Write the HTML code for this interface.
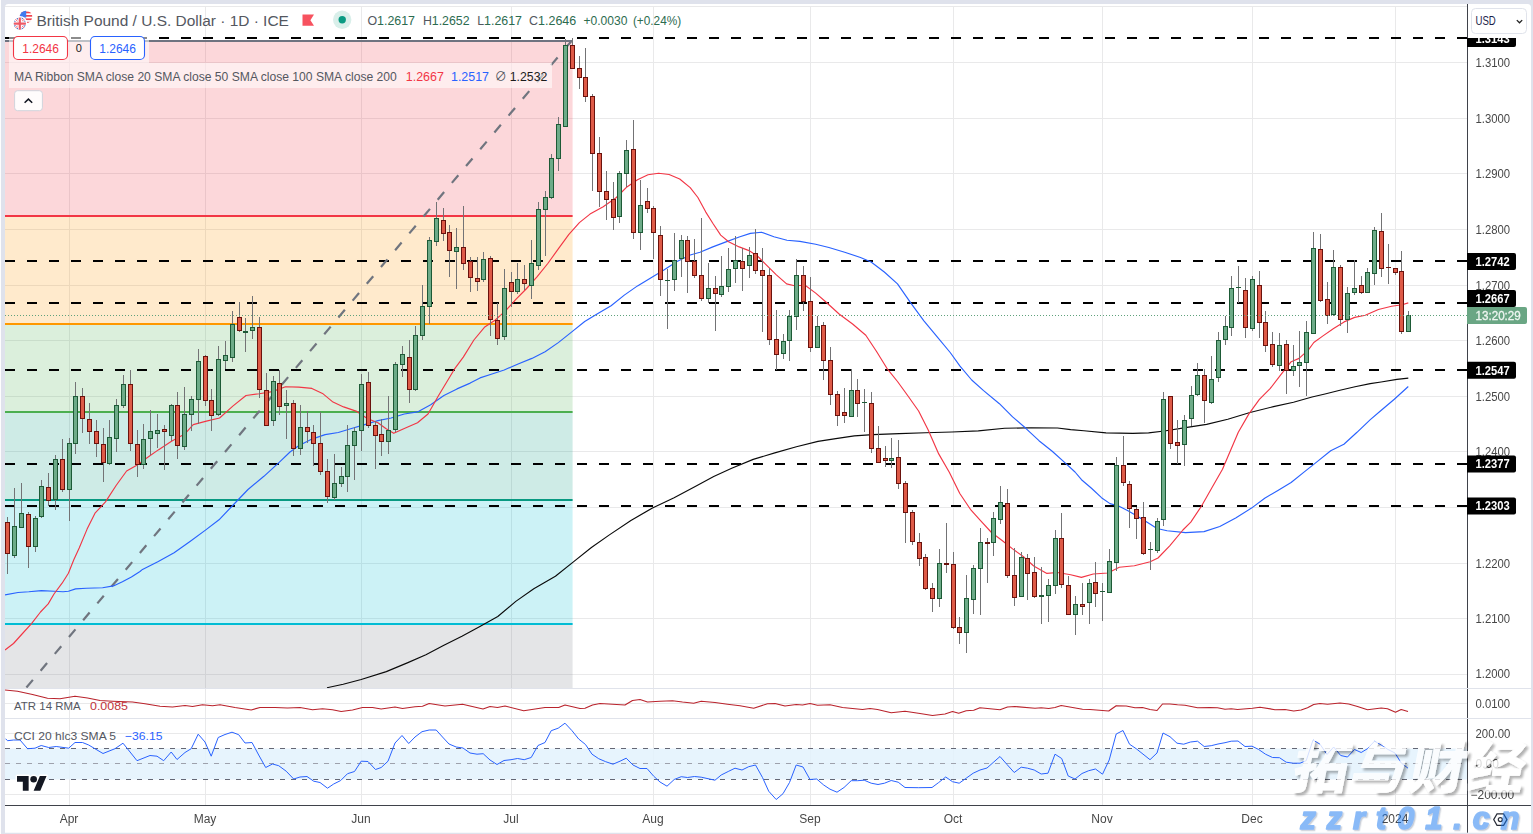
<!DOCTYPE html>
<html><head><meta charset="utf-8"><title>GBPUSD</title>
<style>html,body{margin:0;padding:0;background:#dfe2ec;}body{width:1533px;height:834px;overflow:hidden}</style></head>
<body>
<svg width="1533" height="834" viewBox="0 0 1533 834" style="display:block" font-family="'Liberation Sans', 'Noto Sans CJK SC', sans-serif">
<defs>
<clipPath id="cm"><rect x="5" y="4" width="1462" height="684.5"/></clipPath>
<clipPath id="ca"><rect x="5" y="688.5" width="1462" height="30.0"/></clipPath>
<clipPath id="cc"><rect x="5" y="718.5" width="1462" height="86.5"/></clipPath>
<clipPath id="cax"><rect x="1467" y="38" width="70" height="767"/></clipPath>
<clipPath id="uk"><circle cx="19.8" cy="23.6" r="6.2"/></clipPath>
<clipPath id="us"><circle cx="26" cy="17" r="6.2"/></clipPath>
<filter id="ws" x="-10%" y="-10%" width="130%" height="130%"><feDropShadow dx="2.5" dy="2.5" stdDeviation="0.9" flood-color="#000" flood-opacity="0.38"/></filter>
<filter id="us2" x="-5%" y="-20%" width="110%" height="150%"><feDropShadow dx="1.3" dy="1.3" stdDeviation="0.45" flood-color="#2b3f66" flood-opacity="0.5"/></filter>
<filter id="gs" x="0" y="0" width="100%" height="100%" filterUnits="userSpaceOnUse" color-interpolation-filters="sRGB"><feOffset dx="0" dy="0"/></filter>
</defs>
<rect width="1533" height="834" fill="#dfe2ec"/>
<rect x="0" y="0" width="0.95" height="834" fill="#fff"/>
<path d="M5 832.7V7.5a3.5 3.5 0 0 1 3.5 -3.5H1527.5a3.5 3.5 0 0 1 3.5 3.5V832.7Z" fill="#fff"/>
<path d="M69.5 6V805 M205.5 6V805 M361.5 6V805 M511.5 6V805 M653.5 6V805 M810.5 6V805 M953.5 6V805 M1102.5 6V805 M1252.5 6V805 M1395.5 6V805 M5 674.5H1467 M5 618.5H1467 M5 563.5H1467 M5 507.5H1467 M5 451.5H1467 M5 396.5H1467 M5 340.5H1467 M5 285.5H1467 M5 229.5H1467 M5 173.5H1467 M5 118.5H1467 M5 62.5H1467 M5 6.5H1467 M5 703.5H1467 M5 733.5H1467 M5 763.5H1467 M5 794.5H1467" stroke="#e9e9ea" stroke-width="1" fill="none"/>
<g clip-path="url(#cm)">
<rect x="5" y="41" width="567.6" height="175" fill="#f23645" fill-opacity="0.2"/>
<rect x="5" y="216" width="567.6" height="108" fill="#ff9800" fill-opacity="0.2"/>
<rect x="5" y="324" width="567.6" height="88" fill="#4caf50" fill-opacity="0.2"/>
<rect x="5" y="412" width="567.6" height="88" fill="#089981" fill-opacity="0.2"/>
<rect x="5" y="500" width="567.6" height="124" fill="#00bcd4" fill-opacity="0.2"/>
<rect x="5" y="624" width="567.6" height="166" fill="#787b86" fill-opacity="0.2"/>
<path d="M5 41H572.6" stroke="#6f7380" stroke-width="2" fill="none"/>
<path d="M5 216H572.6" stroke="#f23645" stroke-width="2" fill="none"/>
<path d="M5 324H572.6" stroke="#ff9800" stroke-width="2" fill="none"/>
<path d="M5 412H572.6" stroke="#4caf50" stroke-width="2" fill="none"/>
<path d="M5 500H572.6" stroke="#089981" stroke-width="2" fill="none"/>
<path d="M5 624H572.6" stroke="#00bcd4" stroke-width="2" fill="none"/>
<path d="M5 38H1467" stroke="#000" stroke-width="2" stroke-dasharray="10 12" fill="none"/>
<path d="M5 261H1467" stroke="#000" stroke-width="2" stroke-dasharray="10 12" fill="none"/>
<path d="M5 303H1467" stroke="#000" stroke-width="2" stroke-dasharray="10 12" fill="none"/>
<path d="M5 370H1467" stroke="#000" stroke-width="2" stroke-dasharray="10 12" fill="none"/>
<path d="M5 464H1467" stroke="#000" stroke-width="2" stroke-dasharray="10 12" fill="none"/>
<path d="M5 506H1467" stroke="#000" stroke-width="2" stroke-dasharray="10 12" fill="none"/>
<path d="M571.5 41L-34.7 760" stroke="#70757f" stroke-width="2.2" stroke-dasharray="10 12" stroke-dashoffset="0.4" fill="none"/>
<path d="M327.0 687.8 L343.2 684.2 L361.2 679.5 L386.3 671.6 L407.9 662.6 L425.9 654.7 L443.9 645.3 L461.9 636.3 L479.9 626.6 L497.8 616.5 L515.8 601.4 L533.8 588.8 L555.4 576.3 L573.4 561.9 L591.4 547.5 L609.4 534.9 L630.9 520.5 L652.5 507.9 L674.1 497.8 L695.7 486.3 L713.7 476.6 L731.7 468.3 L753.2 459.4 L774.8 452.9 L796.4 446.8 L818.0 441.4 L835.8 438.6 L854.3 435.9 L872.8 434.6 L899.2 433.6 L925.5 432.8 L951.9 432.0 L978.3 430.9 L1004.7 428.3 L1031.1 427.8 L1057.5 428.0 L1070.7 429.6 L1083.9 430.8 L1106.0 432.9 L1132.8 433.4 L1148.6 432.9 L1164.4 431.0 L1185.5 427.6 L1206.6 424.4 L1227.8 419.2 L1250.0 412.5 L1273.5 406.6 L1293.5 402.2 L1312.0 397.0 L1325.0 394.0 L1338.9 390.5 L1355.0 386.8 L1370.2 383.6 L1381.1 382.0 L1396.9 379.4 L1408.3 378.1" stroke="#0a0a0a" stroke-width="1.15" fill="none" stroke-linejoin="round" />
<path d="M5.0 594.9 L18.0 592.5 L28.8 591.8 L41.4 590.6 L54.0 591.3 L63.0 591.8 L68.4 591.3 L75.6 588.9 L86.4 588.2 L102.6 587.7 L113.4 585.9 L122.4 581.7 L131.4 576.9 L140.0 571.5 L142.5 569.4 L158.3 561.5 L174.1 552.8 L190.0 541.5 L205.8 529.9 L219.0 519.8 L232.2 506.0 L248.0 489.5 L263.9 476.3 L279.7 461.8 L290.0 452.0 L298.7 445.7 L311.9 439.1 L325.1 434.6 L338.3 432.5 L351.5 428.5 L364.7 424.6 L377.9 420.6 L391.1 418.0 L404.3 414.0 L417.5 411.9 L430.7 404.8 L443.9 395.5 L457.0 388.9 L470.2 383.1 L480.0 377.9 L492.0 374.0 L504.2 370.0 L518.7 363.7 L531.9 358.4 L545.1 351.8 L558.3 342.6 L571.5 332.1 L584.7 321.5 L597.9 313.6 L611.1 305.7 L624.3 295.1 L637.5 285.9 L650.7 278.0 L663.9 270.1 L677.0 261.5 L690.2 255.0 L700.0 252.3 L712.8 246.9 L726.0 241.9 L739.2 237.0 L750.4 233.4 L761.4 232.2 L773.9 236.7 L787.0 240.3 L799.9 241.4 L815.7 244.3 L828.9 247.5 L844.7 252.2 L860.5 257.5 L871.1 262.0 L884.3 272.0 L897.5 283.9 L910.7 302.9 L923.9 320.8 L937.0 336.6 L950.2 352.5 L960.0 366.2 L971.7 380.0 L983.6 390.6 L999.4 403.7 L1012.6 416.9 L1025.8 428.3 L1039.0 440.7 L1052.2 451.2 L1065.4 463.1 L1075.0 472.0 L1081.5 479.7 L1091.2 488.0 L1101.5 497.7 L1110.0 503.6 L1118.6 506.0 L1127.5 510.5 L1137.0 516.0 L1147.6 522.5 L1157.0 528.5 L1167.1 530.8 L1185.5 532.6 L1204.0 531.6 L1219.8 526.5 L1235.7 518.1 L1251.5 508.1 L1264.7 498.3 L1277.9 490.4 L1291.1 482.5 L1304.3 471.9 L1317.5 461.4 L1330.7 450.8 L1343.9 444.2 L1357.0 432.3 L1370.3 419.6 L1381.0 410.5 L1394.3 399.2 L1408.3 386.5" stroke="#2962ff" stroke-width="1.15" fill="none" stroke-linejoin="round" />
<path d="M5.0 650.1 L13.5 643.5 L21.6 634.5 L31.5 623.7 L40.5 612.0 L48.2 603.9 L54.0 594.0 L62.1 583.2 L68.4 573.3 L73.8 559.8 L79.2 548.0 L87.1 529.1 L95.0 513.2 L105.5 501.9 L116.1 485.5 L126.6 471.0 L137.2 465.0 L147.8 457.3 L158.3 449.9 L171.5 441.2 L184.7 434.1 L193.2 424.6 L206.4 421.1 L219.6 418.0 L232.8 406.1 L246.0 395.5 L259.2 393.7 L272.3 391.6 L285.5 386.8 L298.7 387.1 L311.9 388.4 L322.5 393.4 L333.0 402.1 L343.6 406.9 L356.8 411.4 L367.3 418.5 L377.9 422.7 L385.8 428.5 L393.7 433.3 L404.3 428.5 L417.5 422.7 L428.0 414.0 L438.6 395.5 L454.4 369.2 L463.3 357.1 L473.9 340.0 L484.4 327.3 L495.0 320.2 L505.5 310.9 L516.1 299.1 L526.6 288.5 L537.2 276.6 L547.8 263.5 L558.3 248.9 L568.9 234.4 L579.4 222.6 L590.0 214.1 L603.2 206.7 L616.4 197.5 L626.9 186.9 L637.5 179.7 L648.0 174.8 L658.6 173.2 L669.1 174.5 L679.7 179.0 L690.2 187.6 L697.9 197.5 L705.8 212.1 L712.8 223.2 L720.7 235.1 L728.6 241.7 L739.2 246.9 L749.7 250.9 L757.6 256.2 L765.5 264.1 L776.1 274.6 L786.6 283.9 L794.6 285.7 L805.1 285.2 L815.7 293.1 L826.2 302.3 L839.4 314.2 L852.6 324.0 L865.8 335.3 L876.4 351.2 L886.9 368.3 L897.5 381.5 L908.0 396.0 L918.6 411.0 L928.2 430.1 L938.7 453.9 L949.3 472.3 L959.8 493.5 L970.4 509.3 L981.0 521.2 L991.5 532.5 L1002.1 540.5 L1012.6 548.9 L1023.2 556.5 L1033.7 566.0 L1046.9 573.4 L1057.5 572.5 L1070.7 574.7 L1081.4 577.4 L1093.3 574.0 L1107.8 573.0 L1119.3 567.2 L1134.4 565.8 L1150.2 561.8 L1158.0 558.0 L1169.7 545.8 L1182.9 530.0 L1190.8 522.1 L1201.4 506.2 L1211.9 487.8 L1222.5 469.3 L1230.4 450.8 L1238.3 432.3 L1248.9 413.9 L1259.4 399.4 L1270.1 388.7 L1280.7 374.9 L1291.2 361.7 L1299.1 358.4 L1308.4 349.8 L1313.8 342.5 L1323.0 335.9 L1333.6 328.5 L1344.1 321.9 L1354.7 317.4 L1365.3 315.3 L1378.4 309.5 L1391.6 306.3 L1402.2 304.7 L1408.3 302.9" stroke="#f23645" stroke-width="1.15" fill="none" stroke-linejoin="round" />
<path d="M14.5 488V558 M21.5 483V528 M35.5 516V552 M41.5 480V518 M55.5 455V510 M69.5 438V521 M75.5 382V454 M109.5 420V465 M116.5 399V452 M123.5 375V408 M143.5 424V469 M150.5 410V455 M157.5 414V448 M171.5 404V441 M184.5 387V450 M191.5 396V431 M198.5 349V424 M218.5 346V416 M225.5 341V369 M232.5 311V362 M245.5 318V352 M252.5 296V339 M273.5 376V426 M286.5 390V439 M300.5 405V455 M334.5 454V500 M341.5 467V487 M347.5 425V492 M354.5 427V480 M361.5 374V451 M388.5 396V454 M395.5 362V432 M402.5 346V377 M415.5 326V391 M422.5 285V340 M429.5 237V324 M436.5 202V246 M456.5 228V289 M483.5 252V282 M504.5 269V340 M517.5 263V294 M531.5 240V299 M538.5 202V270 M545.5 191V256 M551.5 154V199 M558.5 117V171 M565.5 39V127 M619.5 171V223 M626.5 140V187 M640.5 180V250 M667.5 269V329 M674.5 233V291 M681.5 235V277 M708.5 263V303 M721.5 256V297 M728.5 248V292 M735.5 236V283 M749.5 247V278 M783.5 334V359 M789.5 310V361 M796.5 259V330 M817.5 316V348 M851.5 369V417 M864.5 389V432 M891.5 438V468 M939.5 549V607 M966.5 575V653 M973.5 565V614 M980.5 528V615 M993.5 512V556 M1000.5 486V524 M1021.5 552V597 M1041.5 567V624 M1048.5 579V622 M1055.5 530V594 M1075.5 596V635 M1089.5 579V624 M1102.5 583V621 M1109.5 549V593 M1116.5 457V571 M1150.5 542V570 M1157.5 518V553 M1163.5 392V526 M1184.5 415V466 M1191.5 386V426 M1197.5 363V396 M1211.5 356V404 M1218.5 332V382 M1225.5 316V345 M1231.5 276V336 M1238.5 266V303 M1252.5 276V331 M1279.5 333V371 M1293.5 345V376 M1299.5 331V387 M1306.5 321V396 M1313.5 232V334 M1333.5 250V316 M1347.5 287V333 M1354.5 260V295 M1367.5 268V293 M1374.5 227V285 M1408.5 311V332 M7.5 517V574 M28.5 512V568 M48.5 473V506 M62.5 439V492 M82.5 388V433 M89.5 403V444 M96.5 420V457 M103.5 428V482 M130.5 370V451 M137.5 430V477 M164.5 425V470 M177.5 392V459 M205.5 355V406 M211.5 389V431 M239.5 302V332 M259.5 317V398 M266.5 373V426 M279.5 370V415 M293.5 400V456 M307.5 411V443 M313.5 425V466 M320.5 412V475 M327.5 459V503 M368.5 372V428 M375.5 421V469 M381.5 419V456 M409.5 340V403 M443.5 208V241 M449.5 225V277 M463.5 206V270 M470.5 257V292 M477.5 257V291 M490.5 256V336 M497.5 303V345 M511.5 272V307 M524.5 265V290 M572.5 38V69 M579.5 56V89 M585.5 48V102 M592.5 94V191 M599.5 137V207 M606.5 171V220 M613.5 182V230 M633.5 120V239 M647.5 188V213 M653.5 206V259 M660.5 226V296 M687.5 236V293 M694.5 239V278 M701.5 218V301 M715.5 276V331 M742.5 248V291 M755.5 229V274 M762.5 248V332 M769.5 268V345 M776.5 310V370 M803.5 266V311 M810.5 277V352 M823.5 322V380 M830.5 347V405 M837.5 391V426 M844.5 388V423 M857.5 379V417 M871.5 392V453 M878.5 426V463 M885.5 446V467 M898.5 440V489 M905.5 481V543 M912.5 510V545 M919.5 533V566 M925.5 554V590 M932.5 583V612 M946.5 523V573 M953.5 552V629 M959.5 617V644 M987.5 538V583 M1007.5 489V578 M1014.5 548V606 M1027.5 554V600 M1034.5 557V598 M1061.5 513V588 M1068.5 576V615 M1082.5 583V615 M1095.5 562V607 M1123.5 436V486 M1129.5 481V528 M1136.5 507V539 M1143.5 502V555 M1170.5 396V449 M1177.5 420V464 M1204.5 369V423 M1245.5 278V338 M1259.5 271V338 M1265.5 311V352 M1272.5 332V367 M1286.5 340V394 M1320.5 234V302 M1327.5 282V324 M1340.5 265V326 M1361.5 276V294 M1381.5 213V277 M1388.5 244V284 M1395.5 268V275 M1401.5 251V334" stroke="#737375" stroke-width="1" fill="none"/>
<rect x="12.5" y="526.5" width="4" height="29" fill="#6dab88" stroke="#1d5a36" stroke-width="1"/>
<rect x="19.5" y="513.5" width="4" height="14" fill="#6dab88" stroke="#1d5a36" stroke-width="1"/>
<rect x="33.5" y="518.5" width="4" height="28" fill="#6dab88" stroke="#1d5a36" stroke-width="1"/>
<rect x="39.5" y="486.5" width="4" height="30" fill="#6dab88" stroke="#1d5a36" stroke-width="1"/>
<rect x="53.5" y="459.5" width="4" height="40" fill="#6dab88" stroke="#1d5a36" stroke-width="1"/>
<rect x="67.5" y="443.5" width="4" height="46" fill="#6dab88" stroke="#1d5a36" stroke-width="1"/>
<rect x="73.5" y="396.5" width="4" height="47" fill="#6dab88" stroke="#1d5a36" stroke-width="1"/>
<rect x="107.5" y="437.5" width="4" height="26" fill="#6dab88" stroke="#1d5a36" stroke-width="1"/>
<rect x="114.5" y="405.5" width="4" height="33" fill="#6dab88" stroke="#1d5a36" stroke-width="1"/>
<rect x="121.5" y="384.5" width="4" height="21" fill="#6dab88" stroke="#1d5a36" stroke-width="1"/>
<rect x="141.5" y="439.5" width="4" height="25" fill="#6dab88" stroke="#1d5a36" stroke-width="1"/>
<rect x="148.5" y="431.5" width="4" height="7" fill="#6dab88" stroke="#1d5a36" stroke-width="1"/>
<rect x="155.5" y="430.5" width="4" height="3" fill="#6dab88" stroke="#1d5a36" stroke-width="1"/>
<rect x="169.5" y="405.5" width="4" height="30" fill="#6dab88" stroke="#1d5a36" stroke-width="1"/>
<rect x="182.5" y="414.5" width="4" height="32" fill="#6dab88" stroke="#1d5a36" stroke-width="1"/>
<rect x="189.5" y="399.5" width="4" height="15" fill="#6dab88" stroke="#1d5a36" stroke-width="1"/>
<rect x="196.5" y="361.5" width="4" height="38" fill="#6dab88" stroke="#1d5a36" stroke-width="1"/>
<rect x="216.5" y="359.5" width="4" height="55" fill="#6dab88" stroke="#1d5a36" stroke-width="1"/>
<rect x="223.5" y="355.5" width="4" height="5" fill="#6dab88" stroke="#1d5a36" stroke-width="1"/>
<rect x="230.5" y="324.5" width="4" height="33" fill="#6dab88" stroke="#1d5a36" stroke-width="1"/>
<rect x="243.0" y="331" width="5" height="2" fill="#1d5a36"/>
<rect x="250.5" y="327.5" width="4" height="3" fill="#6dab88" stroke="#1d5a36" stroke-width="1"/>
<rect x="271.5" y="381.5" width="4" height="39" fill="#6dab88" stroke="#1d5a36" stroke-width="1"/>
<rect x="284.5" y="403.5" width="4" height="2" fill="#6dab88" stroke="#1d5a36" stroke-width="1"/>
<rect x="298.5" y="427.5" width="4" height="21" fill="#6dab88" stroke="#1d5a36" stroke-width="1"/>
<rect x="332.5" y="483.5" width="4" height="14" fill="#6dab88" stroke="#1d5a36" stroke-width="1"/>
<rect x="339.5" y="476.5" width="4" height="7" fill="#6dab88" stroke="#1d5a36" stroke-width="1"/>
<rect x="345.5" y="445.5" width="4" height="31" fill="#6dab88" stroke="#1d5a36" stroke-width="1"/>
<rect x="352.5" y="431.5" width="4" height="14" fill="#6dab88" stroke="#1d5a36" stroke-width="1"/>
<rect x="359.5" y="384.5" width="4" height="46" fill="#6dab88" stroke="#1d5a36" stroke-width="1"/>
<rect x="386.5" y="430.5" width="4" height="11" fill="#6dab88" stroke="#1d5a36" stroke-width="1"/>
<rect x="393.5" y="364.5" width="4" height="65" fill="#6dab88" stroke="#1d5a36" stroke-width="1"/>
<rect x="400.5" y="354.5" width="4" height="10" fill="#6dab88" stroke="#1d5a36" stroke-width="1"/>
<rect x="413.5" y="335.5" width="4" height="54" fill="#6dab88" stroke="#1d5a36" stroke-width="1"/>
<rect x="420.5" y="306.5" width="4" height="29" fill="#6dab88" stroke="#1d5a36" stroke-width="1"/>
<rect x="427.5" y="240.5" width="4" height="66" fill="#6dab88" stroke="#1d5a36" stroke-width="1"/>
<rect x="434.5" y="218.5" width="4" height="23" fill="#6dab88" stroke="#1d5a36" stroke-width="1"/>
<rect x="454.5" y="247.5" width="4" height="4" fill="#6dab88" stroke="#1d5a36" stroke-width="1"/>
<rect x="481.5" y="259.5" width="4" height="20" fill="#6dab88" stroke="#1d5a36" stroke-width="1"/>
<rect x="502.5" y="288.5" width="4" height="48" fill="#6dab88" stroke="#1d5a36" stroke-width="1"/>
<rect x="515.5" y="279.5" width="4" height="12" fill="#6dab88" stroke="#1d5a36" stroke-width="1"/>
<rect x="529.5" y="263.5" width="4" height="22" fill="#6dab88" stroke="#1d5a36" stroke-width="1"/>
<rect x="536.5" y="209.5" width="4" height="56" fill="#6dab88" stroke="#1d5a36" stroke-width="1"/>
<rect x="543.5" y="197.5" width="4" height="12" fill="#6dab88" stroke="#1d5a36" stroke-width="1"/>
<rect x="549.5" y="158.5" width="4" height="39" fill="#6dab88" stroke="#1d5a36" stroke-width="1"/>
<rect x="556.5" y="124.5" width="4" height="34" fill="#6dab88" stroke="#1d5a36" stroke-width="1"/>
<rect x="563.5" y="45.5" width="4" height="81" fill="#6dab88" stroke="#1d5a36" stroke-width="1"/>
<rect x="617.5" y="173.5" width="4" height="43" fill="#6dab88" stroke="#1d5a36" stroke-width="1"/>
<rect x="624.5" y="150.5" width="4" height="23" fill="#6dab88" stroke="#1d5a36" stroke-width="1"/>
<rect x="638.5" y="205.5" width="4" height="27" fill="#6dab88" stroke="#1d5a36" stroke-width="1"/>
<rect x="665.0" y="280" width="5" height="1" fill="#1d5a36"/>
<rect x="672.5" y="260.5" width="4" height="19" fill="#6dab88" stroke="#1d5a36" stroke-width="1"/>
<rect x="679.5" y="240.5" width="4" height="18" fill="#6dab88" stroke="#1d5a36" stroke-width="1"/>
<rect x="706.5" y="288.5" width="4" height="10" fill="#6dab88" stroke="#1d5a36" stroke-width="1"/>
<rect x="719.5" y="286.5" width="4" height="8" fill="#6dab88" stroke="#1d5a36" stroke-width="1"/>
<rect x="726.5" y="269.5" width="4" height="17" fill="#6dab88" stroke="#1d5a36" stroke-width="1"/>
<rect x="733.5" y="260.5" width="4" height="8" fill="#6dab88" stroke="#1d5a36" stroke-width="1"/>
<rect x="747.5" y="255.5" width="4" height="10" fill="#6dab88" stroke="#1d5a36" stroke-width="1"/>
<rect x="781.5" y="341.5" width="4" height="12" fill="#6dab88" stroke="#1d5a36" stroke-width="1"/>
<rect x="787.5" y="316.5" width="4" height="24" fill="#6dab88" stroke="#1d5a36" stroke-width="1"/>
<rect x="794.5" y="275.5" width="4" height="41" fill="#6dab88" stroke="#1d5a36" stroke-width="1"/>
<rect x="815.5" y="326.5" width="4" height="21" fill="#6dab88" stroke="#1d5a36" stroke-width="1"/>
<rect x="849.5" y="390.5" width="4" height="26" fill="#6dab88" stroke="#1d5a36" stroke-width="1"/>
<rect x="862.0" y="402" width="5" height="1" fill="#1d5a36"/>
<rect x="889.5" y="458.5" width="4" height="2" fill="#6dab88" stroke="#1d5a36" stroke-width="1"/>
<rect x="937.5" y="563.5" width="4" height="35" fill="#6dab88" stroke="#1d5a36" stroke-width="1"/>
<rect x="964.5" y="598.5" width="4" height="34" fill="#6dab88" stroke="#1d5a36" stroke-width="1"/>
<rect x="971.5" y="568.5" width="4" height="31" fill="#6dab88" stroke="#1d5a36" stroke-width="1"/>
<rect x="978.5" y="542.5" width="4" height="26" fill="#6dab88" stroke="#1d5a36" stroke-width="1"/>
<rect x="991.5" y="518.5" width="4" height="24" fill="#6dab88" stroke="#1d5a36" stroke-width="1"/>
<rect x="998.5" y="502.5" width="4" height="17" fill="#6dab88" stroke="#1d5a36" stroke-width="1"/>
<rect x="1019.5" y="557.5" width="4" height="39" fill="#6dab88" stroke="#1d5a36" stroke-width="1"/>
<rect x="1039.0" y="595" width="5" height="2" fill="#1d5a36"/>
<rect x="1046.5" y="585.5" width="4" height="10" fill="#6dab88" stroke="#1d5a36" stroke-width="1"/>
<rect x="1053.5" y="538.5" width="4" height="47" fill="#6dab88" stroke="#1d5a36" stroke-width="1"/>
<rect x="1073.5" y="604.5" width="4" height="10" fill="#6dab88" stroke="#1d5a36" stroke-width="1"/>
<rect x="1087.5" y="583.5" width="4" height="19" fill="#6dab88" stroke="#1d5a36" stroke-width="1"/>
<rect x="1100.0" y="591" width="5" height="1" fill="#1d5a36"/>
<rect x="1107.5" y="561.5" width="4" height="31" fill="#6dab88" stroke="#1d5a36" stroke-width="1"/>
<rect x="1114.5" y="465.5" width="4" height="97" fill="#6dab88" stroke="#1d5a36" stroke-width="1"/>
<rect x="1148.0" y="549" width="5" height="1" fill="#1d5a36"/>
<rect x="1155.5" y="521.5" width="4" height="29" fill="#6dab88" stroke="#1d5a36" stroke-width="1"/>
<rect x="1161.5" y="399.5" width="4" height="120" fill="#6dab88" stroke="#1d5a36" stroke-width="1"/>
<rect x="1182.5" y="420.5" width="4" height="24" fill="#6dab88" stroke="#1d5a36" stroke-width="1"/>
<rect x="1189.5" y="395.5" width="4" height="23" fill="#6dab88" stroke="#1d5a36" stroke-width="1"/>
<rect x="1195.5" y="375.5" width="4" height="19" fill="#6dab88" stroke="#1d5a36" stroke-width="1"/>
<rect x="1209.5" y="379.5" width="4" height="23" fill="#6dab88" stroke="#1d5a36" stroke-width="1"/>
<rect x="1216.5" y="340.5" width="4" height="37" fill="#6dab88" stroke="#1d5a36" stroke-width="1"/>
<rect x="1223.5" y="326.5" width="4" height="13" fill="#6dab88" stroke="#1d5a36" stroke-width="1"/>
<rect x="1229.5" y="288.5" width="4" height="39" fill="#6dab88" stroke="#1d5a36" stroke-width="1"/>
<rect x="1236.0" y="287" width="5" height="1" fill="#1d5a36"/>
<rect x="1250.5" y="279.5" width="4" height="49" fill="#6dab88" stroke="#1d5a36" stroke-width="1"/>
<rect x="1277.5" y="345.5" width="4" height="20" fill="#6dab88" stroke="#1d5a36" stroke-width="1"/>
<rect x="1291.5" y="366.5" width="4" height="4" fill="#6dab88" stroke="#1d5a36" stroke-width="1"/>
<rect x="1297.5" y="362.5" width="4" height="3" fill="#6dab88" stroke="#1d5a36" stroke-width="1"/>
<rect x="1304.5" y="332.5" width="4" height="30" fill="#6dab88" stroke="#1d5a36" stroke-width="1"/>
<rect x="1311.5" y="248.5" width="4" height="85" fill="#6dab88" stroke="#1d5a36" stroke-width="1"/>
<rect x="1331.5" y="267.5" width="4" height="47" fill="#6dab88" stroke="#1d5a36" stroke-width="1"/>
<rect x="1345.5" y="293.5" width="4" height="26" fill="#6dab88" stroke="#1d5a36" stroke-width="1"/>
<rect x="1352.5" y="288.5" width="4" height="4" fill="#6dab88" stroke="#1d5a36" stroke-width="1"/>
<rect x="1365.5" y="272.5" width="4" height="20" fill="#6dab88" stroke="#1d5a36" stroke-width="1"/>
<rect x="1372.5" y="230.5" width="4" height="43" fill="#6dab88" stroke="#1d5a36" stroke-width="1"/>
<rect x="1406.5" y="315.5" width="4" height="16" fill="#6dab88" stroke="#1d5a36" stroke-width="1"/>
<rect x="5.5" y="522.5" width="4" height="31" fill="#de5a47" stroke="#6a120d" stroke-width="1"/>
<rect x="26.5" y="514.5" width="4" height="32" fill="#de5a47" stroke="#6a120d" stroke-width="1"/>
<rect x="46.5" y="487.5" width="4" height="13" fill="#de5a47" stroke="#6a120d" stroke-width="1"/>
<rect x="60.5" y="459.5" width="4" height="30" fill="#de5a47" stroke="#6a120d" stroke-width="1"/>
<rect x="80.5" y="396.5" width="4" height="22" fill="#de5a47" stroke="#6a120d" stroke-width="1"/>
<rect x="87.5" y="419.5" width="4" height="12" fill="#de5a47" stroke="#6a120d" stroke-width="1"/>
<rect x="94.5" y="431.5" width="4" height="12" fill="#de5a47" stroke="#6a120d" stroke-width="1"/>
<rect x="101.5" y="444.5" width="4" height="18" fill="#de5a47" stroke="#6a120d" stroke-width="1"/>
<rect x="128.5" y="384.5" width="4" height="59" fill="#de5a47" stroke="#6a120d" stroke-width="1"/>
<rect x="135.5" y="444.5" width="4" height="20" fill="#de5a47" stroke="#6a120d" stroke-width="1"/>
<rect x="162.5" y="429.5" width="4" height="2" fill="#de5a47" stroke="#6a120d" stroke-width="1"/>
<rect x="175.5" y="405.5" width="4" height="40" fill="#de5a47" stroke="#6a120d" stroke-width="1"/>
<rect x="203.5" y="356.5" width="4" height="44" fill="#de5a47" stroke="#6a120d" stroke-width="1"/>
<rect x="209.5" y="400.5" width="4" height="15" fill="#de5a47" stroke="#6a120d" stroke-width="1"/>
<rect x="237.5" y="317.5" width="4" height="13" fill="#de5a47" stroke="#6a120d" stroke-width="1"/>
<rect x="257.5" y="327.5" width="4" height="62" fill="#de5a47" stroke="#6a120d" stroke-width="1"/>
<rect x="264.5" y="390.5" width="4" height="35" fill="#de5a47" stroke="#6a120d" stroke-width="1"/>
<rect x="277.5" y="383.5" width="4" height="23" fill="#de5a47" stroke="#6a120d" stroke-width="1"/>
<rect x="291.5" y="403.5" width="4" height="45" fill="#de5a47" stroke="#6a120d" stroke-width="1"/>
<rect x="305.5" y="427.5" width="4" height="4" fill="#de5a47" stroke="#6a120d" stroke-width="1"/>
<rect x="311.5" y="432.5" width="4" height="11" fill="#de5a47" stroke="#6a120d" stroke-width="1"/>
<rect x="318.5" y="443.5" width="4" height="28" fill="#de5a47" stroke="#6a120d" stroke-width="1"/>
<rect x="325.5" y="471.5" width="4" height="25" fill="#de5a47" stroke="#6a120d" stroke-width="1"/>
<rect x="366.5" y="382.5" width="4" height="43" fill="#de5a47" stroke="#6a120d" stroke-width="1"/>
<rect x="373.5" y="425.5" width="4" height="10" fill="#de5a47" stroke="#6a120d" stroke-width="1"/>
<rect x="379.5" y="434.5" width="4" height="7" fill="#de5a47" stroke="#6a120d" stroke-width="1"/>
<rect x="407.5" y="357.5" width="4" height="32" fill="#de5a47" stroke="#6a120d" stroke-width="1"/>
<rect x="441.5" y="220.5" width="4" height="13" fill="#de5a47" stroke="#6a120d" stroke-width="1"/>
<rect x="447.5" y="232.5" width="4" height="18" fill="#de5a47" stroke="#6a120d" stroke-width="1"/>
<rect x="461.5" y="247.5" width="4" height="16" fill="#de5a47" stroke="#6a120d" stroke-width="1"/>
<rect x="468.5" y="261.5" width="4" height="16" fill="#de5a47" stroke="#6a120d" stroke-width="1"/>
<rect x="475.5" y="278.5" width="4" height="3" fill="#de5a47" stroke="#6a120d" stroke-width="1"/>
<rect x="488.5" y="258.5" width="4" height="61" fill="#de5a47" stroke="#6a120d" stroke-width="1"/>
<rect x="495.5" y="320.5" width="4" height="18" fill="#de5a47" stroke="#6a120d" stroke-width="1"/>
<rect x="509.5" y="282.5" width="4" height="9" fill="#de5a47" stroke="#6a120d" stroke-width="1"/>
<rect x="522.5" y="279.5" width="4" height="4" fill="#de5a47" stroke="#6a120d" stroke-width="1"/>
<rect x="570.5" y="45.5" width="4" height="23" fill="#de5a47" stroke="#6a120d" stroke-width="1"/>
<rect x="577.5" y="68.5" width="4" height="9" fill="#de5a47" stroke="#6a120d" stroke-width="1"/>
<rect x="583.5" y="77.5" width="4" height="19" fill="#de5a47" stroke="#6a120d" stroke-width="1"/>
<rect x="590.5" y="96.5" width="4" height="57" fill="#de5a47" stroke="#6a120d" stroke-width="1"/>
<rect x="597.5" y="153.5" width="4" height="38" fill="#de5a47" stroke="#6a120d" stroke-width="1"/>
<rect x="604.5" y="191.5" width="4" height="8" fill="#de5a47" stroke="#6a120d" stroke-width="1"/>
<rect x="611.5" y="199.5" width="4" height="18" fill="#de5a47" stroke="#6a120d" stroke-width="1"/>
<rect x="631.5" y="149.5" width="4" height="83" fill="#de5a47" stroke="#6a120d" stroke-width="1"/>
<rect x="645.5" y="201.5" width="4" height="7" fill="#de5a47" stroke="#6a120d" stroke-width="1"/>
<rect x="651.5" y="208.5" width="4" height="24" fill="#de5a47" stroke="#6a120d" stroke-width="1"/>
<rect x="658.5" y="235.5" width="4" height="44" fill="#de5a47" stroke="#6a120d" stroke-width="1"/>
<rect x="685.5" y="240.5" width="4" height="21" fill="#de5a47" stroke="#6a120d" stroke-width="1"/>
<rect x="692.5" y="261.5" width="4" height="14" fill="#de5a47" stroke="#6a120d" stroke-width="1"/>
<rect x="699.5" y="275.5" width="4" height="23" fill="#de5a47" stroke="#6a120d" stroke-width="1"/>
<rect x="713.5" y="288.5" width="4" height="5" fill="#de5a47" stroke="#6a120d" stroke-width="1"/>
<rect x="740.5" y="261.5" width="4" height="7" fill="#de5a47" stroke="#6a120d" stroke-width="1"/>
<rect x="753.5" y="253.5" width="4" height="17" fill="#de5a47" stroke="#6a120d" stroke-width="1"/>
<rect x="760.5" y="270.5" width="4" height="5" fill="#de5a47" stroke="#6a120d" stroke-width="1"/>
<rect x="767.5" y="275.5" width="4" height="64" fill="#de5a47" stroke="#6a120d" stroke-width="1"/>
<rect x="774.5" y="339.5" width="4" height="15" fill="#de5a47" stroke="#6a120d" stroke-width="1"/>
<rect x="801.5" y="275.5" width="4" height="26" fill="#de5a47" stroke="#6a120d" stroke-width="1"/>
<rect x="808.5" y="301.5" width="4" height="46" fill="#de5a47" stroke="#6a120d" stroke-width="1"/>
<rect x="821.5" y="325.5" width="4" height="35" fill="#de5a47" stroke="#6a120d" stroke-width="1"/>
<rect x="828.5" y="360.5" width="4" height="34" fill="#de5a47" stroke="#6a120d" stroke-width="1"/>
<rect x="835.5" y="394.5" width="4" height="21" fill="#de5a47" stroke="#6a120d" stroke-width="1"/>
<rect x="842.5" y="412.5" width="4" height="3" fill="#de5a47" stroke="#6a120d" stroke-width="1"/>
<rect x="855.5" y="390.5" width="4" height="13" fill="#de5a47" stroke="#6a120d" stroke-width="1"/>
<rect x="869.5" y="403.5" width="4" height="45" fill="#de5a47" stroke="#6a120d" stroke-width="1"/>
<rect x="876.5" y="448.5" width="4" height="14" fill="#de5a47" stroke="#6a120d" stroke-width="1"/>
<rect x="883.5" y="458.5" width="4" height="2" fill="#de5a47" stroke="#6a120d" stroke-width="1"/>
<rect x="896.5" y="457.5" width="4" height="26" fill="#de5a47" stroke="#6a120d" stroke-width="1"/>
<rect x="903.5" y="483.5" width="4" height="29" fill="#de5a47" stroke="#6a120d" stroke-width="1"/>
<rect x="910.5" y="512.5" width="4" height="29" fill="#de5a47" stroke="#6a120d" stroke-width="1"/>
<rect x="917.5" y="542.5" width="4" height="16" fill="#de5a47" stroke="#6a120d" stroke-width="1"/>
<rect x="923.5" y="557.5" width="4" height="31" fill="#de5a47" stroke="#6a120d" stroke-width="1"/>
<rect x="930.5" y="588.5" width="4" height="10" fill="#de5a47" stroke="#6a120d" stroke-width="1"/>
<rect x="944.0" y="563" width="5" height="2" fill="#6a120d"/>
<rect x="951.5" y="564.5" width="4" height="63" fill="#de5a47" stroke="#6a120d" stroke-width="1"/>
<rect x="957.5" y="627.5" width="4" height="5" fill="#de5a47" stroke="#6a120d" stroke-width="1"/>
<rect x="985.0" y="542" width="5" height="2" fill="#6a120d"/>
<rect x="1005.5" y="503.5" width="4" height="72" fill="#de5a47" stroke="#6a120d" stroke-width="1"/>
<rect x="1012.5" y="575.5" width="4" height="22" fill="#de5a47" stroke="#6a120d" stroke-width="1"/>
<rect x="1025.5" y="558.5" width="4" height="15" fill="#de5a47" stroke="#6a120d" stroke-width="1"/>
<rect x="1032.5" y="572.5" width="4" height="24" fill="#de5a47" stroke="#6a120d" stroke-width="1"/>
<rect x="1059.5" y="538.5" width="4" height="46" fill="#de5a47" stroke="#6a120d" stroke-width="1"/>
<rect x="1066.5" y="585.5" width="4" height="29" fill="#de5a47" stroke="#6a120d" stroke-width="1"/>
<rect x="1080.5" y="604.5" width="4" height="2" fill="#de5a47" stroke="#6a120d" stroke-width="1"/>
<rect x="1093.5" y="582.5" width="4" height="11" fill="#de5a47" stroke="#6a120d" stroke-width="1"/>
<rect x="1121.5" y="465.5" width="4" height="17" fill="#de5a47" stroke="#6a120d" stroke-width="1"/>
<rect x="1127.5" y="484.5" width="4" height="24" fill="#de5a47" stroke="#6a120d" stroke-width="1"/>
<rect x="1134.5" y="509.5" width="4" height="9" fill="#de5a47" stroke="#6a120d" stroke-width="1"/>
<rect x="1141.5" y="517.5" width="4" height="36" fill="#de5a47" stroke="#6a120d" stroke-width="1"/>
<rect x="1168.5" y="396.5" width="4" height="47" fill="#de5a47" stroke="#6a120d" stroke-width="1"/>
<rect x="1175.5" y="442.5" width="4" height="3" fill="#de5a47" stroke="#6a120d" stroke-width="1"/>
<rect x="1202.5" y="375.5" width="4" height="25" fill="#de5a47" stroke="#6a120d" stroke-width="1"/>
<rect x="1243.5" y="290.5" width="4" height="37" fill="#de5a47" stroke="#6a120d" stroke-width="1"/>
<rect x="1257.5" y="285.5" width="4" height="37" fill="#de5a47" stroke="#6a120d" stroke-width="1"/>
<rect x="1263.5" y="322.5" width="4" height="23" fill="#de5a47" stroke="#6a120d" stroke-width="1"/>
<rect x="1270.5" y="344.5" width="4" height="20" fill="#de5a47" stroke="#6a120d" stroke-width="1"/>
<rect x="1284.5" y="344.5" width="4" height="26" fill="#de5a47" stroke="#6a120d" stroke-width="1"/>
<rect x="1318.5" y="249.5" width="4" height="51" fill="#de5a47" stroke="#6a120d" stroke-width="1"/>
<rect x="1325.5" y="299.5" width="4" height="16" fill="#de5a47" stroke="#6a120d" stroke-width="1"/>
<rect x="1338.5" y="267.5" width="4" height="52" fill="#de5a47" stroke="#6a120d" stroke-width="1"/>
<rect x="1359.5" y="285.5" width="4" height="7" fill="#de5a47" stroke="#6a120d" stroke-width="1"/>
<rect x="1379.5" y="231.5" width="4" height="37" fill="#de5a47" stroke="#6a120d" stroke-width="1"/>
<rect x="1386.0" y="267" width="5" height="1" fill="#6a120d"/>
<rect x="1393.5" y="268.5" width="4" height="4" fill="#de5a47" stroke="#6a120d" stroke-width="1"/>
<rect x="1399.5" y="271.5" width="4" height="60" fill="#de5a47" stroke="#6a120d" stroke-width="1"/>
<path d="M5 315.5H1467" stroke="#5fa17c" stroke-width="1" stroke-dasharray="1 2" fill="none"/>
</g>
<g clip-path="url(#ca)">
<path d="M5.0 690.0 L17.5 691.2 L32.5 694.5 L47.5 698.2 L60.0 698.7 L75.0 696.2 L87.5 698.0 L100.0 700.5 L112.5 701.2 L132.5 702.0 L145.0 703.7 L160.0 706.2 L172.5 707.0 L185.0 705.5 L192.5 706.5 L202.5 704.7 L212.5 705.7 L220.0 704.7 L235.0 707.5 L251.2 710.0 L260.0 707.5 L275.0 707.5 L287.5 708.0 L300.0 707.5 L312.5 709.7 L322.5 708.7 L332.5 709.7 L341.2 711.5 L352.5 710.0 L362.5 707.5 L372.5 707.5 L381.2 709.0 L395.0 707.0 L402.5 708.5 L415.0 706.7 L422.5 706.2 L429.2 703.5 L445.0 706.0 L462.5 704.2 L483.0 709.0 L490.0 706.5 L497.5 707.5 L505.0 706.0 L523.7 710.7 L545.0 707.5 L558.7 707.5 L565.0 705.0 L580.0 708.5 L585.0 708.2 L592.5 705.0 L600.0 703.5 L625.0 705.0 L632.5 700.5 L640.0 699.5 L647.5 702.0 L660.0 701.2 L672.5 700.7 L682.5 702.0 L693.7 703.2 L701.2 701.2 L715.0 702.5 L727.5 704.2 L740.0 705.7 L753.7 708.2 L767.5 703.7 L775.0 703.5 L785.0 706.0 L796.2 704.5 L802.5 705.0 L810.0 703.5 L817.5 705.2 L830.0 704.7 L842.5 707.5 L862.5 709.5 L870.0 708.5 L877.5 709.5 L891.2 712.7 L905.0 711.2 L920.0 713.5 L932.5 715.5 L945.0 714.0 L952.5 711.5 L958.7 713.2 L966.2 710.7 L973.7 710.2 L980.0 707.7 L1000.0 709.7 L1007.5 707.0 L1015.0 706.5 L1035.0 708.2 L1041.2 707.7 L1048.7 708.5 L1055.0 707.5 L1061.2 705.5 L1082.5 709.2 L1090.0 709.5 L1108.7 711.0 L1116.2 705.7 L1126.2 706.0 L1135.0 707.7 L1142.5 707.5 L1150.0 709.5 L1157.0 710.5 L1162.5 704.0 L1170.0 704.0 L1177.5 704.7 L1185.0 705.2 L1197.5 707.7 L1210.0 707.5 L1217.5 707.7 L1225.0 709.2 L1231.2 708.7 L1237.5 709.5 L1252.5 708.2 L1260.0 707.2 L1275.0 709.7 L1285.0 709.5 L1293.7 711.0 L1301.2 710.0 L1307.5 707.7 L1313.7 704.5 L1320.0 703.5 L1327.5 704.2 L1340.0 703.0 L1348.7 704.0 L1357.5 706.5 L1367.5 709.7 L1381.2 708.0 L1387.5 708.7 L1395.5 712.2 L1401.2 709.5 L1408.0 711.5" stroke="#b9232c" stroke-width="1.15" fill="none" stroke-linejoin="round" />
</g>
<g clip-path="url(#cc)">
<rect x="5" y="748.5" width="1462" height="31" fill="#e3f2fd" fill-opacity="0.85"/>
<path d="M5 748.5H1467" stroke="#646775" stroke-width="1" stroke-dasharray="5 6" fill="none"/>
<path d="M5 763.5H1467" stroke="#9ea1ac" stroke-width="1" stroke-dasharray="5 6" fill="none"/>
<path d="M5 779.5H1467" stroke="#646775" stroke-width="1" stroke-dasharray="5 6" fill="none"/>
<path d="M5.5 738.7 L7.5 740.7 L13.7 740.0 L20.0 740.0 L27.5 748.7 L35.0 748.2 L41.2 745.5 L48.7 747.5 L56.2 746.5 L68.7 748.2 L75.0 742.5 L82.5 742.5 L88.7 745.0 L103.0 753.5 L115.0 748.7 L123.0 743.2 L137.0 760.7 L150.0 755.5 L157.0 756.2 L163.7 760.7 L171.2 752.0 L177.0 759.5 L185.0 752.5 L191.2 748.7 L198.2 734.2 L205.0 742.0 L211.2 756.2 L218.2 737.5 L225.0 734.5 L232.0 732.2 L238.7 734.7 L245.0 743.0 L252.0 742.5 L258.7 755.0 L265.7 767.5 L272.5 764.0 L278.7 765.7 L286.2 771.2 L293.7 779.0 L300.0 777.0 L307.0 776.5 L313.7 781.2 L320.0 782.5 L327.5 788.2 L333.7 784.0 L340.7 780.5 L347.5 773.7 L354.5 771.5 L361.2 761.2 L368.0 761.5 L375.5 769.5 L381.2 767.5 L388.0 761.2 L395.0 743.0 L402.0 735.5 L408.7 743.5 L415.0 737.0 L422.0 731.7 L429.2 730.0 L436.2 730.0 L442.5 737.0 L449.0 744.0 L456.2 747.0 L463.0 748.0 L470.0 753.0 L477.0 754.2 L483.2 753.7 L490.0 760.0 L497.0 764.5 L504.0 760.5 L511.0 759.7 L517.5 758.5 L524.2 759.7 L531.2 757.5 L538.0 745.5 L545.0 742.5 L551.2 730.7 L558.2 728.2 L565.0 723.2 L572.0 730.7 L578.7 739.0 L585.5 744.5 L592.0 754.2 L598.7 758.7 L605.7 761.7 L613.0 764.2 L620.0 761.2 L626.2 758.2 L633.0 765.0 L640.0 768.5 L647.0 768.5 L653.7 776.2 L660.0 782.0 L667.0 786.2 L674.2 779.5 L681.2 776.7 L687.5 777.5 L694.5 776.5 L701.2 777.2 L708.0 778.7 L715.0 780.2 L721.2 775.0 L728.2 771.5 L735.0 768.2 L742.0 770.0 L748.7 766.7 L755.5 765.0 L762.5 777.5 L768.7 791.2 L776.2 799.5 L783.0 793.7 L789.5 782.5 L796.2 765.0 L803.0 767.0 L810.0 779.5 L816.7 779.0 L823.7 785.0 L830.0 789.2 L837.0 792.2 L844.0 787.5 L851.2 780.7 L857.5 780.7 L864.2 780.2 L871.2 783.2 L878.0 784.5 L884.5 783.2 L891.2 780.5 L898.2 782.2 L905.0 787.5 L918.7 787.7 L932.0 787.5 L938.7 782.5 L945.7 777.0 L952.5 781.7 L959.2 783.2 L966.2 778.2 L973.2 773.2 L980.0 770.0 L987.0 768.0 L993.2 762.5 L1000.0 756.5 L1007.0 764.5 L1014.2 772.5 L1021.2 767.2 L1027.5 768.2 L1034.2 770.0 L1041.2 774.0 L1048.0 773.2 L1055.0 754.2 L1061.7 758.5 L1068.2 776.0 L1075.0 779.0 L1082.0 773.5 L1088.7 770.7 L1095.5 769.0 L1102.5 774.2 L1109.2 760.0 L1116.2 734.0 L1123.0 730.5 L1129.5 744.2 L1136.2 748.7 L1150.0 759.7 L1157.0 753.0 L1163.0 733.0 L1170.0 736.7 L1177.0 743.2 L1183.7 744.2 L1190.5 742.0 L1197.5 741.2 L1204.2 746.5 L1211.2 745.7 L1218.0 744.0 L1225.0 742.7 L1231.2 741.2 L1238.0 741.0 L1245.0 746.5 L1252.0 746.2 L1258.7 749.5 L1265.5 754.2 L1272.5 757.5 L1279.5 757.7 L1286.2 762.2 L1293.2 763.2 L1300.0 763.2 L1306.2 760.7 L1313.0 740.0 L1320.0 744.2 L1327.0 754.5 L1333.7 747.0 L1340.7 755.5 L1347.5 757.0 L1354.5 749.5 L1361.2 752.5 L1367.5 748.7 L1374.5 741.2 L1381.2 745.0 L1388.0 749.5 L1395.0 753.0 L1401.2 763.0 L1408.0 768.2" stroke="#2962ff" stroke-width="1.0" fill="none" stroke-linejoin="round" />
</g>
<path d="M1467.5 4V832.7" stroke="#3f424a" stroke-width="1"/>
<path d="M5 805.5H1531" stroke="#3f424a" stroke-width="1"/>
<path d="M5 688.5H1531" stroke="#e0e3eb" stroke-width="1"/>
<path d="M5 718.5H1531" stroke="#e0e3eb" stroke-width="1"/>
<g filter="url(#gs)"><g clip-path="url(#cax)">
<text x="1475.5" y="677.8" font-size="12" fill="#474747" font-weight="normal" text-anchor="start" textLength="34.6" lengthAdjust="spacingAndGlyphs">1.2000</text>
<text x="1475.5" y="622.6" font-size="12" fill="#474747" font-weight="normal" text-anchor="start" textLength="34.6" lengthAdjust="spacingAndGlyphs">1.2100</text>
<text x="1475.5" y="567.6" font-size="12" fill="#474747" font-weight="normal" text-anchor="start" textLength="34.6" lengthAdjust="spacingAndGlyphs">1.2200</text>
<text x="1475.5" y="511.6" font-size="12" fill="#474747" font-weight="normal" text-anchor="start" textLength="34.6" lengthAdjust="spacingAndGlyphs">1.2300</text>
<text x="1475.5" y="455.6" font-size="12" fill="#474747" font-weight="normal" text-anchor="start" textLength="34.6" lengthAdjust="spacingAndGlyphs">1.2400</text>
<text x="1475.5" y="400.6" font-size="12" fill="#474747" font-weight="normal" text-anchor="start" textLength="34.6" lengthAdjust="spacingAndGlyphs">1.2500</text>
<text x="1475.5" y="344.6" font-size="12" fill="#474747" font-weight="normal" text-anchor="start" textLength="34.6" lengthAdjust="spacingAndGlyphs">1.2600</text>
<text x="1475.5" y="289.6" font-size="12" fill="#474747" font-weight="normal" text-anchor="start" textLength="34.6" lengthAdjust="spacingAndGlyphs">1.2700</text>
<text x="1475.5" y="233.6" font-size="12" fill="#474747" font-weight="normal" text-anchor="start" textLength="34.6" lengthAdjust="spacingAndGlyphs">1.2800</text>
<text x="1475.5" y="177.6" font-size="12" fill="#474747" font-weight="normal" text-anchor="start" textLength="34.6" lengthAdjust="spacingAndGlyphs">1.2900</text>
<text x="1475.5" y="122.6" font-size="12" fill="#474747" font-weight="normal" text-anchor="start" textLength="34.6" lengthAdjust="spacingAndGlyphs">1.3000</text>
<text x="1475.5" y="66.6" font-size="12" fill="#474747" font-weight="normal" text-anchor="start" textLength="34.6" lengthAdjust="spacingAndGlyphs">1.3100</text>
<text x="1475.5" y="707.6" font-size="12" fill="#474747" font-weight="normal" text-anchor="start" textLength="34.6" lengthAdjust="spacingAndGlyphs">0.0100</text>
<text x="1475.5" y="737.6" font-size="12" fill="#474747" font-weight="normal" text-anchor="start" textLength="34.8" lengthAdjust="spacingAndGlyphs">200.00</text>
<text x="1475.5" y="767.6" font-size="12" fill="#474747" font-weight="normal" text-anchor="start" >0.00</text>
<text x="1470.5" y="798.6" font-size="12" fill="#474747" font-weight="normal" text-anchor="start" >−200.00</text>
<path d="M1467 30.0H1514a2 2 0 0 1 2 2V45.0a2 2 0 0 1 -2 2H1467Z" fill="#000"/>
<text x="1475.5" y="42.7" font-size="12" fill="#fff" font-weight="bold" text-anchor="start" textLength="34.2" lengthAdjust="spacingAndGlyphs">1.3143</text>
<path d="M1467 253.0H1514a2 2 0 0 1 2 2V268.0a2 2 0 0 1 -2 2H1467Z" fill="#000"/>
<text x="1475.5" y="265.7" font-size="12" fill="#fff" font-weight="bold" text-anchor="start" textLength="34.2" lengthAdjust="spacingAndGlyphs">1.2742</text>
<path d="M1467 361.8H1514a2 2 0 0 1 2 2V376.8a2 2 0 0 1 -2 2H1467Z" fill="#000"/>
<text x="1475.5" y="374.5" font-size="12" fill="#fff" font-weight="bold" text-anchor="start" textLength="34.2" lengthAdjust="spacingAndGlyphs">1.2547</text>
<path d="M1467 455.5H1514a2 2 0 0 1 2 2V470.5a2 2 0 0 1 -2 2H1467Z" fill="#000"/>
<text x="1475.5" y="468.2" font-size="12" fill="#fff" font-weight="bold" text-anchor="start" textLength="34.2" lengthAdjust="spacingAndGlyphs">1.2377</text>
<path d="M1467 497.4H1514a2 2 0 0 1 2 2V512.4a2 2 0 0 1 -2 2H1467Z" fill="#000"/>
<text x="1475.5" y="510.09999999999997" font-size="12" fill="#fff" font-weight="bold" text-anchor="start" textLength="34.2" lengthAdjust="spacingAndGlyphs">1.2303</text>
<path d="M1467 307H1525a2 2 0 0 1 2 2V322a2 2 0 0 1 -2 2H1467Z" fill="#6aa684"/>
<text x="1475.5" y="319.9" font-size="12" fill="#eef6f1" font-weight="normal" text-anchor="start" textLength="45.3" lengthAdjust="spacingAndGlyphs" stroke="#eef6f1" stroke-width="0.3">13:20:29</text>
<path d="M1467 290.0H1514a2 2 0 0 1 2 2V305.0a2 2 0 0 1 -2 2H1467Z" fill="#000"/>
<text x="1475.5" y="302.7" font-size="12" fill="#fff" font-weight="bold" text-anchor="start" textLength="34.2" lengthAdjust="spacingAndGlyphs">1.2667</text>
</g></g>
<rect x="1471.5" y="8.5" width="55" height="25" rx="4" fill="#fff" stroke="#e0e3eb" stroke-width="1"/>
<text x="1475.5" y="25.3" font-size="12" fill="#1b1e4a" font-weight="normal" text-anchor="start" textLength="20.3" lengthAdjust="spacingAndGlyphs">USD</text>
<path d="M1516.8 20.1l2.7 2.7 2.7-2.7" stroke="#222" stroke-width="1.3" fill="none"/>
<g filter="url(#gs)">
<text x="69.0" y="823.2" font-size="12" fill="#474747" font-weight="normal" text-anchor="middle" >Apr</text>
<text x="205.0" y="823.2" font-size="12" fill="#474747" font-weight="normal" text-anchor="middle" >May</text>
<text x="361.0" y="823.2" font-size="12" fill="#474747" font-weight="normal" text-anchor="middle" >Jun</text>
<text x="511.0" y="823.2" font-size="12" fill="#474747" font-weight="normal" text-anchor="middle" >Jul</text>
<text x="653.0" y="823.2" font-size="12" fill="#474747" font-weight="normal" text-anchor="middle" >Aug</text>
<text x="810.0" y="823.2" font-size="12" fill="#474747" font-weight="normal" text-anchor="middle" >Sep</text>
<text x="953.0" y="823.2" font-size="12" fill="#474747" font-weight="normal" text-anchor="middle" >Oct</text>
<text x="1102.0" y="823.2" font-size="12" fill="#474747" font-weight="normal" text-anchor="middle" >Nov</text>
<text x="1252.0" y="823.2" font-size="12" fill="#474747" font-weight="normal" text-anchor="middle" >Dec</text>
<text x="1395.0" y="823.2" font-size="12" fill="#474747" font-weight="normal" text-anchor="middle" >2024</text>
</g>
<polygon points="1506.9,819.6 1503.6,825.3 1497.0,825.3 1493.7,819.6 1497.0,813.9 1503.6,813.9" fill="none" stroke="#2a2e39" stroke-width="1.2"/>
<circle cx="1500.3" cy="819.6" r="2" fill="none" stroke="#2a2e39" stroke-width="1.2"/>
<g transform="translate(17,772.72) scale(0.832,0.823)"><g fill="#fff" stroke="#fff" stroke-width="3.4" stroke-linejoin="round"><path d="M14 22H7V11H0V4h14v18zM28 22h-8l7.5-18h8L28 22z"/><circle cx="20" cy="8" r="4"/></g><g fill="#131722"><path d="M14 22H7V11H0V4h14v18zM28 22h-8l7.5-18h8L28 22z"/><circle cx="20" cy="8" r="4"/></g></g>
<g clip-path="url(#us)"><rect x="19" y="10" width="14" height="14" fill="#fff"/>
<rect x="19" y="11.6" width="14" height="1.7" fill="#f0434f"/>
<rect x="19" y="15.0" width="14" height="1.7" fill="#f0434f"/>
<rect x="19" y="18.4" width="14" height="1.7" fill="#f0434f"/>
<rect x="19" y="21.799999999999997" width="14" height="1.7" fill="#f0434f"/>
<rect x="19" y="10" width="7.2" height="7.6" fill="#3f7bf0"/></g>
<g clip-path="url(#uk)"><rect x="13" y="17" width="14" height="14" fill="#2f55b5"/>
<path d="M13.6 17.4L26 29.8M26 17.4L13.6 29.8" stroke="#fff" stroke-width="2.6"/><path d="M13.6 17.4L26 29.8M26 17.4L13.6 29.8" stroke="#ee5a66" stroke-width="1"/>
<path d="M19.8 17v14M13 23.6h14" stroke="#fff" stroke-width="4"/><path d="M19.8 17v14M13 23.6h14" stroke="#ee5a66" stroke-width="2.2"/></g>
<circle cx="19.8" cy="23.6" r="6.9" fill="none" stroke="#fff" stroke-width="1.2"/>
<text x="36.4" y="25.8" font-size="15.4" fill="#54575f" font-weight="normal" text-anchor="start" textLength="252.5" lengthAdjust="spacingAndGlyphs">British Pound / U.S. Dollar · 1D · ICE</text>
<path d="M302.5 14.6H314l-3.6 5.6 3.6 5.6H302.5z" fill="#f7525f"/>
<circle cx="342.2" cy="19.8" r="9.2" fill="#d9efea"/><circle cx="342.2" cy="19.8" r="3.7" fill="#0a9a82"/>
<text x="367.4" y="25.3" font-size="13" fill="#2c6b4f" textLength="47.6" lengthAdjust="spacingAndGlyphs"><tspan fill="#54575f">O</tspan>1.2617</text>
<text x="422.9" y="25.3" font-size="13" fill="#2c6b4f" textLength="46.6" lengthAdjust="spacingAndGlyphs"><tspan fill="#54575f">H</tspan>1.2652</text>
<text x="477.2" y="25.3" font-size="13" fill="#2c6b4f" textLength="44.7" lengthAdjust="spacingAndGlyphs"><tspan fill="#54575f">L</tspan>1.2617</text>
<text x="529.1" y="25.3" font-size="13" fill="#2c6b4f" textLength="47.1" lengthAdjust="spacingAndGlyphs"><tspan fill="#54575f">C</tspan>1.2646</text>
<text x="583.4" y="25.3" font-size="13" fill="#2c6b4f" textLength="44.0" lengthAdjust="spacingAndGlyphs"><tspan fill="#54575f"></tspan>+0.0030</text>
<text x="632.9" y="25.3" font-size="13" fill="#2c6b4f" textLength="48.3" lengthAdjust="spacingAndGlyphs"><tspan fill="#54575f"></tspan>(+0.24%)</text>
<rect x="9" y="36" width="140" height="27" fill="#fff" fill-opacity="0.55"/>
<rect x="9" y="63" width="543" height="25" fill="#fff" fill-opacity="0.55"/>
<rect x="13.5" y="36.5" width="54" height="23" rx="4.5" fill="#fff" stroke="#f23645" stroke-width="1.1"/>
<text x="40.6" y="52.6" font-size="12" fill="#f23645" font-weight="normal" text-anchor="middle" >1.2646</text>
<text x="78.7" y="52.4" font-size="11" fill="#222" font-weight="normal" text-anchor="middle" >0</text>
<rect x="90.5" y="36.5" width="54" height="23" rx="4.5" fill="#fff" stroke="#2962ff" stroke-width="1.1"/>
<text x="117.6" y="52.6" font-size="12" fill="#2962ff" font-weight="normal" text-anchor="middle" >1.2646</text>
<text x="14.1" y="80.8" font-size="12" fill="#54575f" font-weight="normal" text-anchor="start" textLength="382.7" lengthAdjust="spacingAndGlyphs">MA Ribbon SMA close 20 SMA close 50 SMA close 100 SMA close 200</text>
<text x="405.8" y="80.8" font-size="12" fill="#f23645" font-weight="normal" text-anchor="start" textLength="38" lengthAdjust="spacingAndGlyphs">1.2667</text>
<text x="451" y="80.8" font-size="12" fill="#2962ff" font-weight="normal" text-anchor="start" textLength="38" lengthAdjust="spacingAndGlyphs">1.2517</text>
<text x="494.7" y="80.8" font-size="12" fill="#54575f" font-weight="normal" text-anchor="start" >∅</text>
<text x="509.8" y="80.8" font-size="12" fill="#1c1c1c" font-weight="normal" text-anchor="start" textLength="37.5" lengthAdjust="spacingAndGlyphs">1.2532</text>
<rect x="14.6" y="90.7" width="27.8" height="20" rx="3" fill="#fff" fill-opacity="0.92" stroke="#d1d4dc" stroke-width="1"/>
<path d="M24.6 102.8l3.8-3.7 3.8 3.7" stroke="#131722" stroke-width="1.5" fill="none"/>
<text x="14.1" y="709.8" font-size="11.6" fill="#54575f" font-weight="normal" text-anchor="start" textLength="66.5" lengthAdjust="spacingAndGlyphs">ATR 14 RMA</text>
<text x="90" y="709.8" font-size="11.6" fill="#c0333b" font-weight="normal" text-anchor="start" textLength="38" lengthAdjust="spacingAndGlyphs">0.0085</text>
<text x="14.1" y="739.7" font-size="11.6" fill="#54575f" font-weight="normal" text-anchor="start" textLength="102" lengthAdjust="spacingAndGlyphs">CCI 20 hlc3 SMA 5</text>
<text x="125" y="739.7" font-size="11.6" fill="#2962ff" font-weight="normal" text-anchor="start" textLength="37.5" lengthAdjust="spacingAndGlyphs">−36.15</text>
<g filter="url(#ws)" opacity="0.8"><text x="1290" y="788.3" font-size="56" font-weight="700" fill="#fff" stroke="#fff" stroke-width="0.9" stroke-linejoin="round" letter-spacing="2.6" transform="translate(1290,788.3) skewX(-11) translate(-1290,-788.3)">拓与财经</text></g>
<g opacity="0.5"><g filter="url(#us2)"><text x="1300.5" y="828.5" font-size="30.5" font-weight="bold" font-style="italic" fill="#1877f0" stroke="#1877f0" stroke-width="1.7" stroke-linejoin="round" textLength="219" lengthAdjust="spacing">zzrt01.cn</text></g></g>
</svg>
</body></html>
